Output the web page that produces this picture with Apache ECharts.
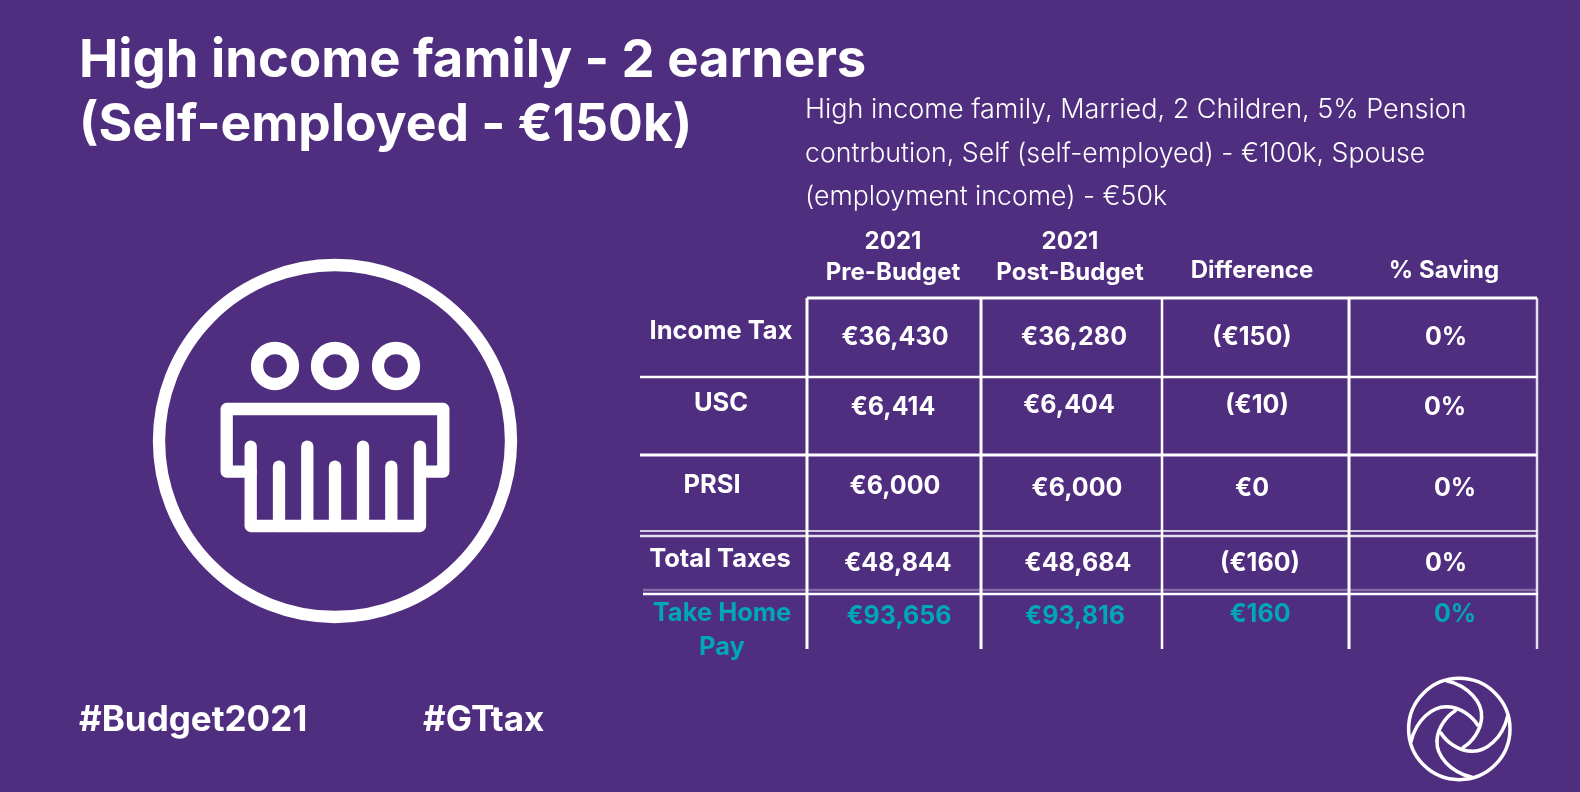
<!DOCTYPE html>
<html>
<head>
<meta charset="utf-8">
<title>High income family - 2 earners</title>
<script src="https://cdn.jsdelivr.net/npm/echarts@6/dist/echarts.min.js"></script>
<style>
  html, body { margin: 0; padding: 0; background: #4f2d7f; }
  #chart { width: 1580px; height: 792px; }
</style>
</head>
<body>
<div id="chart"></div>
<script>
// values
const rowLabels = ['Income Tax', 'USC', 'PRSI', 'Total Taxes', 'Take Home\nPay'];
const columnHeaders = ['2021\nPre-Budget', '2021\nPost-Budget', 'Difference', '% Saving'];
const preBudget = [36430, 6414, 6000, 48844, 93656];
const postBudget = [36280, 6404, 6000, 48684, 93816];
const difference = [-150, -10, 0, -160, 160];
const saving = [0, 0, 0, 0, 0];

const headingLines = ['High income family - 2 earners', '(Self-employed - €150k)'];
const detailLines = [
  'High income family, Married, 2 Children, 5% Pension',
  'contrbution, Self (self-employed) - €100k, Spouse',
  '(employment income) - €50k'
];
const hashtags = ['#Budget2021', '#GTtax'];

// layout, the cells in the original are not quite lined up so each one is placed
const headerX = [893, 1070, 1252, 1444];
const headerY = [257, 257, 271, 271];
const labelX = [721, 721, 712, 720, 722];
const labelY = [331, 403, 485, 559, 630];
const preX = [895, 893, 895, 898, 899];
const postX = [1074, 1069, 1077, 1078, 1075];
const diffX = [1252, 1257, 1252, 1260, 1260];
const saveX = [1446, 1445, 1455, 1446, 1455];
const preY = [337, 407, 486, 563, 616];
const postY = [337, 405, 488, 563, 616];
const diffY = [337, 405, 488, 563, 614];
const saveY = [337, 407, 488, 563, 614];

const purple = '#4f2d7f';
const white = '#ffffff';
const teal = '#00a7b5';
const font = 'Inter';

const euro = (v) => '€' + Math.abs(v).toLocaleString('en-US');
const money = (v) => (v < 0 ? '(' + euro(v) + ')' : euro(v));
const pct = (v) => v + '%';

// x1, y1, x2, y2, width, opacity
const rules = [
  [807, 298, 1537, 298, 3, 1],
  [640, 377, 1537, 377, 2.5, 1],
  [640, 455, 1537, 455, 3, 1],
  [640, 531, 1537, 531, 1.5, 1],
  [640, 536, 1537, 536, 2.5, 0.85],
  [643, 590, 1537, 590, 2.5, 0.3],
  [643, 594, 1538, 594, 2.5, 1],
  [807, 298, 807, 649, 3, 1],
  [981, 298, 981, 649, 3, 1],
  [1162, 298, 1162, 649, 2.5, 1],
  [1349, 298, 1349, 649, 3, 1],
  [1537, 298, 1537, 649, 2.5, 0.85]
];

function cellSeries(name, xs, ys, values, fmt) {
  return {
    name: name,
    type: 'scatter',
    symbolSize: 1,
    itemStyle: { color: 'transparent', opacity: 1 },
    silent: true,
    data: values.map((v, i) => ({
      value: [xs[i], ys[i], v],
      label: { color: i === 4 ? teal : white }
    })),
    label: {
      show: true,
      position: 'inside',
      align: 'center',
      verticalAlign: 'middle',
      fontFamily: font,
      fontWeight: 'bold',
      fontSize: 25,
      formatter: (p) => fmt(p.value[2])
    }
  };
}

const textLines = [
  { list: headingLines, x: 79, y: 61, gap: 64, sizes: [52.6, 51.6], weight: 'bold' },
  { list: detailLines, x: 805, y: 110, gap: 43.5, sizes: [27, 26.7, 26.7], weight: 300 }
];
const staticText = [];
textLines.forEach((t) => t.list.forEach((s, i) => {
  staticText.push({
    type: 'text', x: t.x, y: t.y + i * t.gap,
    style: { text: s, fill: white, font: t.weight + ' ' + t.sizes[i] + 'px ' + font, textVerticalAlign: 'middle' }
  });
}));
[79, 423].forEach((x, i) => {
  staticText.push({
    type: 'text', x: x, y: 720,
    style: { text: hashtags[i], fill: white, font: 'bold 35px ' + font, textVerticalAlign: 'middle' }
  });
});

const iconStroke = { stroke: white, fill: 'none', lineWidth: 12.3, lineCap: 'round', lineJoin: 'round' };
const icon = {
  type: 'group',
  children: [
    { type: 'circle', shape: { cx: 335, cy: 441, r: 176 }, style: iconStroke },
    { type: 'circle', shape: { cx: 275, cy: 366, r: 18 }, style: iconStroke },
    { type: 'circle', shape: { cx: 335, cy: 366, r: 18 }, style: iconStroke },
    { type: 'circle', shape: { cx: 396, cy: 366, r: 18 }, style: iconStroke },
    { type: 'polyline', shape: { points: [[250.7, 471.7], [226.7, 471.7], [226.7, 409], [443.3, 409], [443.3, 471.7], [420, 471.7]] }, style: iconStroke },
    { type: 'polyline', shape: { points: [[250.7, 446.7], [250.7, 526], [420, 526], [420, 446.7]] }, style: iconStroke },
    { type: 'polyline', shape: { points: [[279, 466.7], [279, 526]] }, style: iconStroke },
    { type: 'polyline', shape: { points: [[307.3, 446.7], [307.3, 526]] }, style: iconStroke },
    { type: 'polyline', shape: { points: [[335, 466.7], [335, 526]] }, style: iconStroke },
    { type: 'polyline', shape: { points: [[363, 446.7], [363, 526]] }, style: iconStroke },
    { type: 'polyline', shape: { points: [[391.3, 466.7], [391.3, 526]] }, style: iconStroke }
  ]
};

// the logo is one blade turned four times, the curves are around the ring's centre
const logoStroke = { stroke: white, fill: 'none', lineWidth: 3.5, lineCap: 'round' };
const bladeCurves = [
  [-12.7, -48.3, 9, -43.3, 23.3, -26.7, 22.3, -11.7],
  [22.3, -11.7, 21.7, 1.7, 12.3, 13.3, 4, 18.3]
];
const logoBlades = [0, 1, 2, 3].reduce((all, turn) => all.concat(bladeCurves.map((p) => ({
  type: 'bezierCurve',
  rotation: -turn * Math.PI / 2,
  shape: { x1: p[0], y1: p[1], cpx1: p[2], cpy1: p[3], cpx2: p[4], cpy2: p[5], x2: p[6], y2: p[7] },
  style: logoStroke
}))), []);
const logo = {
  type: 'group',
  x: 1459.3,
  y: 729,
  children: [{ type: 'circle', shape: { cx: 0, cy: 0, r: 50.7 }, style: logoStroke }].concat(logoBlades)
};

const chart = echarts.init(document.getElementById('chart'), null, { renderer: 'canvas' });
chart.setOption({
  animation: false,
  backgroundColor: purple,
  grid: { left: 0, right: 0, top: 0, bottom: 0 },
  xAxis: { type: 'value', min: 0, max: 1580, show: false },
  yAxis: { type: 'value', min: 0, max: 792, inverse: true, show: false },
  graphic: { elements: staticText.concat([icon, logo]) },
  series: [
    {
      name: 'rules',
      type: 'custom',
      silent: true,
      data: rules,
      renderItem: (params, api) => {
        const a = api.coord([api.value(0), api.value(1)]);
        const b = api.coord([api.value(2), api.value(3)]);
        return {
          type: 'line',
          shape: { x1: a[0], y1: a[1], x2: b[0], y2: b[1] },
          style: { stroke: white, lineWidth: api.value(4), opacity: api.value(5) }
        };
      }
    },
    {
      name: 'headers',
      type: 'scatter',
      symbolSize: 1,
      itemStyle: { color: 'transparent', opacity: 1 },
      silent: true,
      data: columnHeaders.map((h, i) => ({ value: [headerX[i], headerY[i]], name: h })),
      label: {
        show: true, position: 'inside', align: 'center', verticalAlign: 'middle',
        color: white, fontFamily: font, fontWeight: 'bold', fontSize: 24, lineHeight: 31,
        formatter: (p) => p.name
      }
    },
    {
      name: 'labels',
      type: 'scatter',
      symbolSize: 1,
      itemStyle: { color: 'transparent', opacity: 1 },
      silent: true,
      data: rowLabels.map((l, i) => ({
        value: [labelX[i], labelY[i]], name: l,
        label: { color: i === 4 ? teal : white }
      })),
      label: {
        show: true, position: 'inside', align: 'center', verticalAlign: 'middle',
        fontFamily: font, fontWeight: 'bold', fontSize: 25.5, lineHeight: 34,
        formatter: (p) => p.name
      }
    },
    cellSeries('Pre-Budget', preX, preY, preBudget, money),
    cellSeries('Post-Budget', postX, postY, postBudget, money),
    cellSeries('Difference', diffX, diffY, difference, money),
    cellSeries('% Saving', saveX, saveY, saving, pct)
  ]
});
</script>
</body>
</html>
